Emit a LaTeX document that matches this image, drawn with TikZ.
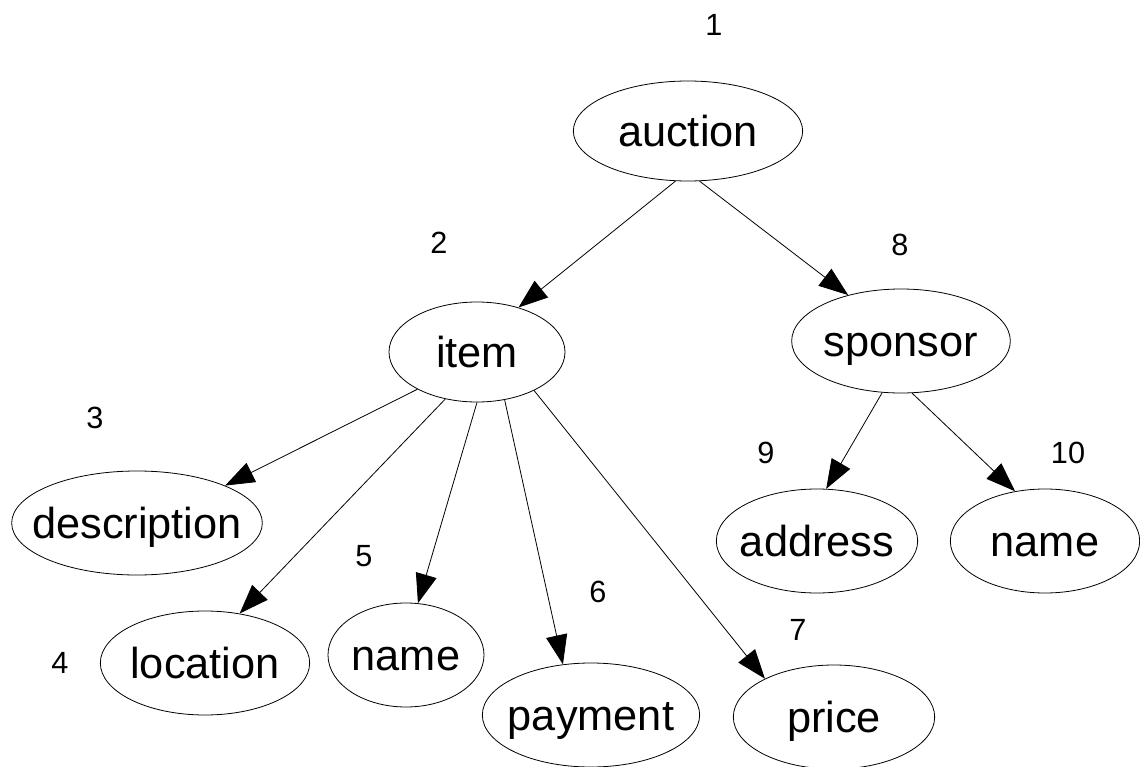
\documentclass[tikz,border=0pt]{standalone}
\usepackage{fontspec}
\setmainfont{Liberation Sans}
\usetikzlibrary{shapes.geometric,arrows.meta}
\begin{document}
\begin{tikzpicture}[x=0.75pt,y=-0.75pt,
  el/.style={draw,ellipse,inner sep=0pt,minimum height=78pt,line width=0.6pt,
    font=\fontsize{32.5}{36}\selectfont,text height=22.75pt,text depth=0pt},
  num/.style={font=\fontsize{23}{26}\selectfont,inner sep=0pt},
  edge/.style={-{Triangle[length=22pt,width=16pt]},line width=0.6pt}]
\useasboundingbox (0,0) rectangle (1140,767);
\node[el,minimum width=172pt,minimum height=75pt] (auction) at (688,131) {\makebox[0pt]{auction}};
\node[el,minimum width=132pt,minimum height=75pt] (item) at (477,352) {\makebox[0pt]{item}};
\node[el,minimum width=164pt] (sponsor) at (901,341) {\makebox[0pt]{sponsor}};
\node[el,minimum width=188pt] (description) at (137,523) {\makebox[0pt]{description}};
\node[el,minimum width=157pt] (location) at (205,663) {\makebox[0pt]{location}};
\node[el,minimum width=117pt] (name5) at (406,655) {\makebox[0pt]{name}};
\node[el,minimum width=163pt] (payment) at (591,715) {\makebox[0pt]{payment}};
\node[el,minimum width=151pt] (price) at (834,717) {\makebox[0pt]{price}};
\node[el,minimum width=151pt] (address) at (817,541) {\makebox[0pt]{address}};
\node[el,minimum width=142pt] (name10) at (1045,541) {\makebox[0pt]{name}};
\node[num] (n1) at (714,25) {1};
\node[num] (n2) at (439,243) {2};
\node[num] (n8) at (900,245) {8};
\node[num] (n3) at (95,418) {3};
\node[num] (n9) at (766,453) {9};
\node[num] (n10) at (1068,453) {10};
\node[num] (n5) at (364,556) {5};
\node[num] (n6) at (598,592) {6};
\node[num] (n4) at (60,663) {4};
\node[num] (n7) at (798,630) {7};
\draw[edge] (auction.-104) -- (item.47);
\draw[edge] (auction.-77) -- (sponsor.139);
\draw[edge] (item.-148) -- (description.23);
\draw[edge] (item.-124) -- (location.55);
\draw[edge] (item.-90) -- (name5.77);
\draw[edge] (item.-60) -- (payment.119);
\draw[edge] (item.-34) -- (price.151);
\draw[edge] (sponsor.-110) -- (address.80);
\draw[edge] (sponsor.-78) -- (name10.121);
\end{tikzpicture}
\end{document}
